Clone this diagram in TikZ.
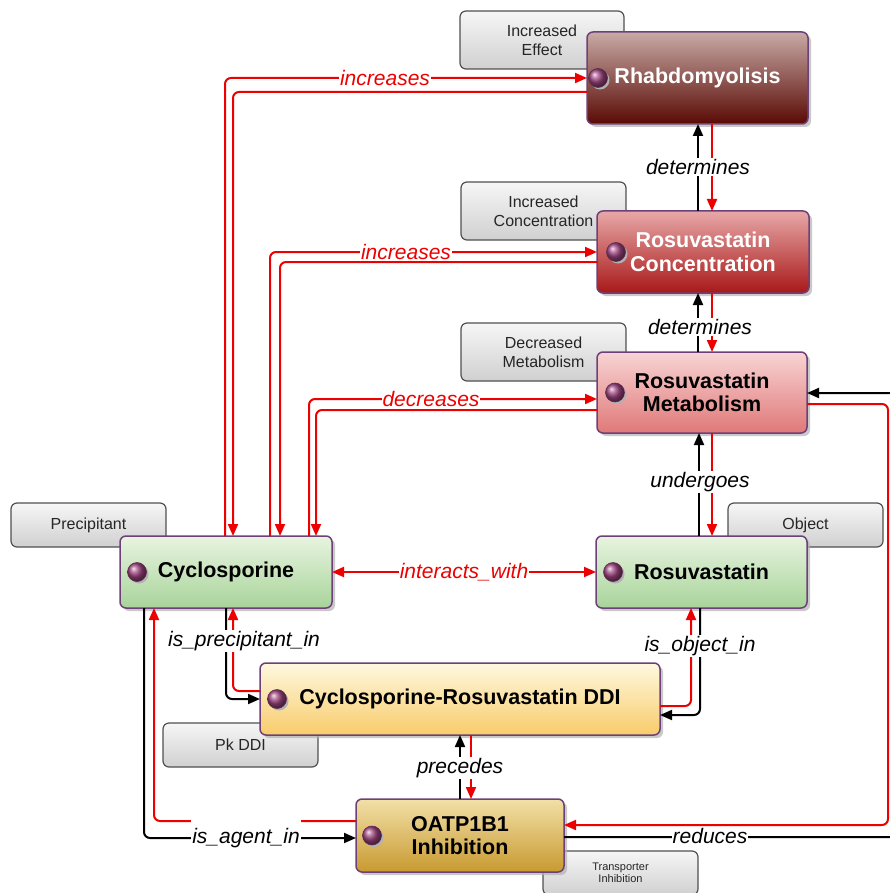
\documentclass[tikz,border=0pt]{standalone}
\usepackage{fontspec}
\setmainfont{Liberation Sans}
\usetikzlibrary{arrows.meta,shadows}
\definecolor{rl}{RGB}{236,0,0}
\definecolor{rhT}{RGB}{200,170,166}
\definecolor{rhB}{RGB}{90,10,4}
\definecolor{rcT}{RGB}{232,168,168}
\definecolor{rcB}{RGB}{168,24,24}
\definecolor{rmT}{RGB}{248,212,212}
\definecolor{rmB}{RGB}{224,120,120}
\definecolor{gT}{RGB}{232,244,224}
\definecolor{gB}{RGB}{168,212,154}
\definecolor{yT}{RGB}{255,248,224}
\definecolor{yB}{RGB}{248,204,106}
\definecolor{oT}{RGB}{242,224,168}
\definecolor{oB}{RGB}{200,154,48}
\definecolor{grT}{RGB}{246,246,246}
\definecolor{grB}{RGB}{208,208,208}
\definecolor{grD}{RGB}{80,80,80}
\definecolor{bord}{RGB}{110,64,122}
\definecolor{ballc}{RGB}{160,70,130}
\newcommand\mkball[2]{%
  \fill[black!30] ([xshift=#2+2,yshift=-2]#1.west) circle (9.5);
  \shade[ball color=ballc] ([xshift=#2]#1.west) circle (9.5);
  \draw[ballc!60!black, line width=0.6pt] ([xshift=#2]#1.west) circle (9.5);
}
\begin{document}
\begin{tikzpicture}[x=1pt,y=-1pt,
  mainbox/.style={rectangle, rounded corners=6pt, draw=bord, line width=1.5pt,
    outer sep=0pt, inner sep=0pt, align=center,
    font=\fontsize{21.5}{23.5}\selectfont\bfseries,
    drop shadow={shadow xshift=3pt,shadow yshift=-3pt,fill=black!30,opacity=0.7}},
  graybox/.style={rectangle, rounded corners=6pt, draw=grD, line width=1.2pt,
    top color=grT, bottom color=grB, align=center, text=black!85,
    font=\fontsize{16}{19}\selectfont, inner sep=0pt, outer sep=0pt},
  conn/.style={line width=2pt, rounded corners=6pt},
  redc/.style={conn, draw=rl},
  blkc/.style={conn, draw=black},
  tip/.style={-{Triangle[length=12pt,width=10pt]}},
  twotips/.style={{Triangle[length=12pt,width=10pt]}-{Triangle[length=12pt,width=10pt]}},
  rel/.style={fill=white, inner sep=1pt, font=\fontsize{21}{24}\selectfont\itshape}
]
\useasboundingbox (0,0) rectangle (889,893);

% gray tag boxes
\node[graybox, minimum width=164pt, minimum height=58pt] (lE) at (542,40) {Increased\\Effect};
\node[graybox, minimum width=165pt, minimum height=58pt] (lC) at (543.5,211) {Increased\\Concentration};
\node[graybox, minimum width=165pt, minimum height=58pt] (lM) at (543.5,352) {Decreased\\Metabolism};
\node[graybox, minimum width=155pt, minimum height=44pt] (lP) at (88.5,525) {Precipitant};
\node[graybox, minimum width=155pt, minimum height=44pt] (lO) at (805.5,525) {Object};
\node[graybox, minimum width=155pt, minimum height=44pt] (lK) at (240.5,745) {Pk DDI};
\node[graybox, minimum width=155pt, minimum height=44pt, font=\fontsize{11}{12.5}\selectfont] (lT) at (620.5,873) {Transporter\\Inhibition};

% main boxes
\node[mainbox, minimum width=221pt, minimum height=92pt, top color=rhT, bottom color=rhB, text=white] (rh) at (697.5,78) {Rhabdomyolisis};
\node[mainbox, minimum width=212pt, minimum height=82pt, top color=rcT, bottom color=rcB, text=white] (rc) at (703,252) {Rosuvastatin\\Concentration};
\node[mainbox, minimum width=210pt, minimum height=81pt, top color=rmT, bottom color=rmB] (rm) at (702,392.5) {Rosuvastatin\\Metabolism};
\node[mainbox, minimum width=212pt, minimum height=72pt, top color=gT, bottom color=gB] (cy) at (226,572) {Cyclosporine};
\node[mainbox, minimum width=211pt, minimum height=72pt, top color=gT, bottom color=gB] (ro) at (701.5,572) {Rosuvastatin};
\node[mainbox, minimum width=400pt, minimum height=72pt, top color=yT, bottom color=yB] (ddi) at (460,699) {Cyclosporine-Rosuvastatin DDI};
\node[mainbox, minimum width=208pt, minimum height=73pt, top color=oT, bottom color=oB] (oa) at (460,835.5) {OATP1B1\\Inhibition};

\mkball{rh}{11}
\mkball{rc}{19}
\mkball{rm}{18}
\mkball{cy}{17}
\mkball{ro}{17}
\mkball{ddi}{17}
\mkball{oa}{16}

% increases -> Rhabdomyolisis
\draw[redc,tip] ([xshift=-1]cy.north) |- (rh.west);
\draw[redc,tip] ([yshift=-14]rh.west) -| ([xshift=7]cy.north);
% increases -> Rosuvastatin Concentration
\draw[redc,tip] ([xshift=44]cy.north) |- (rc.west);
\draw[redc,tip] ([yshift=-10]rc.west) -| ([xshift=54]cy.north);
% decreases -> Rosuvastatin Metabolism
\draw[redc,tip] ([xshift=83]cy.north) |- ([yshift=-6.5]rm.west);
\draw[redc,tip] ([yshift=-17.5]rm.west) -| ([xshift=90]cy.north);
% determines
\draw[blkc,tip] ([xshift=-5]rc.north) -- ([xshift=0.5]rh.south);
\draw[redc,tip] ([xshift=14.5]rh.south) -- ([xshift=9]rc.north);
\draw[blkc,tip] ([xshift=-4]rm.north) -- ([xshift=-5]rc.south);
\draw[redc,tip] ([xshift=9]rc.south) -- ([xshift=10]rm.north);
% undergoes
\draw[blkc,tip] ([xshift=-2.5]ro.north) -- ([xshift=-3]rm.south);
\draw[redc,tip] ([xshift=10]rm.south) -- ([xshift=10.5]ro.north);
% interacts_with
\draw[redc,twotips] (cy.east) -- (ro.west);
% is_precipitant_in
\draw[blkc,tip] (cy.south) |- (ddi.west);
\draw[redc,tip] ([yshift=8]ddi.west) -| ([xshift=7]cy.south);
% is_object_in
\draw[redc,tip] ([yshift=-7]ddi.east) -| ([xshift=-10.5]ro.south);
\draw[blkc,tip] ([xshift=-1.5]ro.south) |- ([yshift=-16]ddi.east);
% precedes
\draw[blkc,tip] (oa.north) -- (ddi.south);
\draw[redc,tip] ([xshift=11]ddi.south) -- ([xshift=11]oa.north);
% is_agent_in
\draw[blkc,tip] ([xshift=-82]cy.south) |- ([yshift=-2.5]oa.west);
\draw[redc,tip] ([yshift=14.5]oa.west) -| ([xshift=-72]cy.south);
% reduces
\draw[blkc,tip] ([yshift=-1.5]oa.east) -- ++(336,0) |- ([yshift=-0.5]rm.east);
\draw[redc,tip] ([yshift=-11.5]rm.east) -- ++(81,0) |- ([yshift=10.5]oa.east);

% labels
\node[rel,text=rl] (t1) at (385,78) {increases};
\node[rel,text=rl] (t2) at (406,252) {increases};
\node[rel,text=rl] (t3) at (431,399) {decreases};
\node[rel] (t4) at (698,167) {determines};
\node[rel] (t5) at (700,327) {determines};
\node[rel] (t6) at (700,482) {undergoes};
\node[rel,text=rl] (t7) at (464,572) {interacts\_with};
\node[rel] (t8) at (244,641) {is\_precipitant\_in};
\node[rel] (t9) at (700,646) {is\_object\_in};
\node[rel] (t10) at (460,768) {precedes};
\node[rel, minimum height=40pt] (t11) at (246,838) {is\_agent\_in};
\node[rel] (t12) at (710,836) {reduces};
\end{tikzpicture}
\end{document}
